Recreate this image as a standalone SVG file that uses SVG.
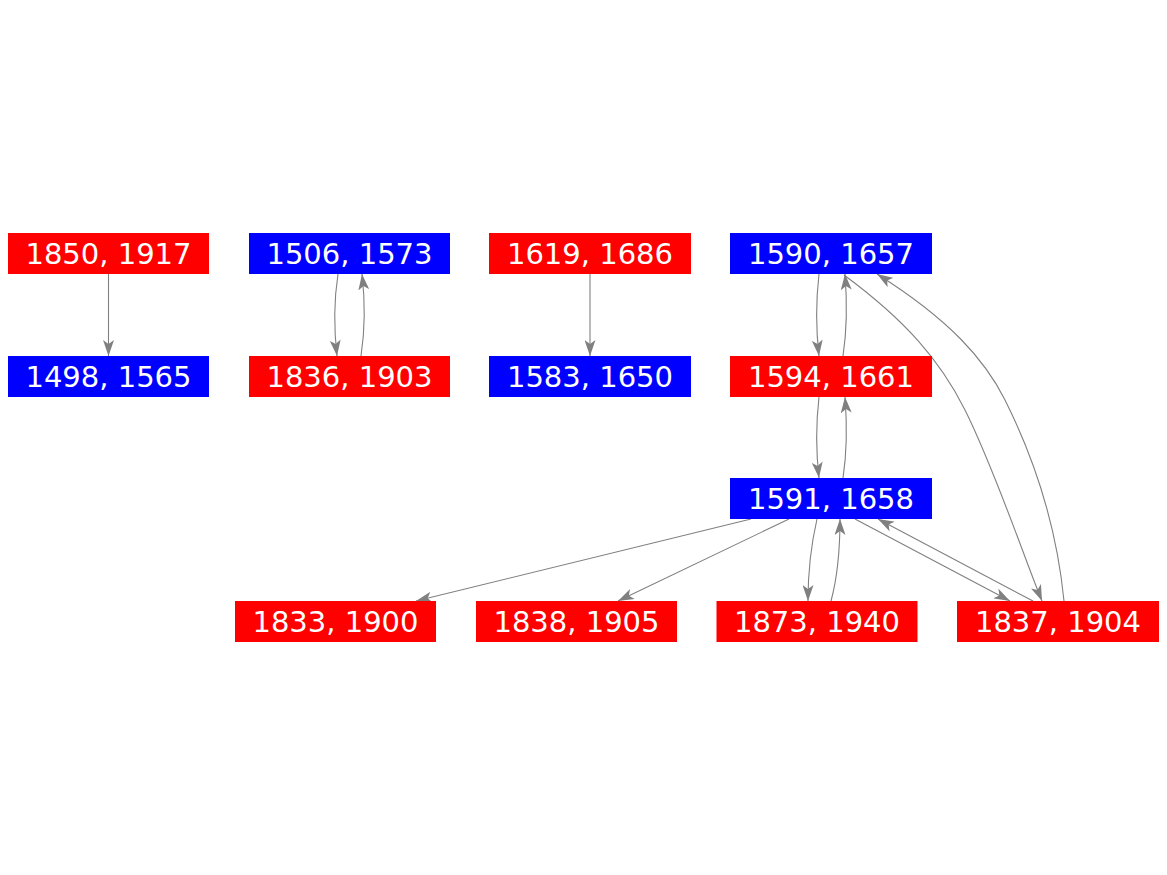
<svg xmlns="http://www.w3.org/2000/svg" width="1167" height="875" viewBox="0 0 1167 875">
<style>
.r{fill:#ff0000}
.b{fill:#0000ff}
text{fill:#ffffff;font-family:"DejaVu Sans",sans-serif;font-size:29px;text-anchor:middle}
.e{fill:none;stroke:#808080;stroke-width:1.1;marker-end:url(#ah)}
</style>
<defs>
<marker id="ah" markerUnits="userSpaceOnUse" viewBox="0 0 16 11" refX="16" refY="5.5" markerWidth="16" markerHeight="11" orient="auto">
<path d="M0,0 L16,5.5 L0,11 L4,5.5 Z" fill="#808080"/>
</marker>
</defs>
<rect width="1167" height="875" fill="#ffffff"/>
<g id="connectors">
<path class="e" d="M108.5,274 L108.5,356"/>
<path class="e" d="M338,274 C334,300 334,330 337,356"/>
<path class="e" d="M361,356 C365,330 365,300 362,274"/>
<path class="e" d="M590,274 L590,356"/>
<path class="e" d="M819,274 C816,300 816,330 819,356"/>
<path class="e" d="M843,356 C847,330 847,300 845,274"/>
<path class="e" d="M819,397 C816,423 816,452 819,478"/>
<path class="e" d="M843,478 C847,452 847,423 845,397"/>
<path class="e" d="M844,275 C905,320 940,360 965,410 C995,470 1025,560 1042,601"/>
<path class="e" d="M1064,601 C1058,540 1040,470 1005,400 C985,360 950,320 877,274"/>
<path class="e" d="M855,519 L1010,601"/>
<path class="e" d="M1033,601 L878,519"/>
<path class="e" d="M817,519 C811,545 808,570 808,601"/>
<path class="e" d="M831,601 C838,575 840,550 840,519"/>
<path class="e" d="M751,519 L416,601"/>
<path class="e" d="M789,519 L618,601"/>
</g>
<g id="n1850"><rect class="r" x="8" y="233" width="201" height="41"/><text x="108.5" y="263.7">1850, 1917</text></g>
<g id="n1498"><rect class="b" x="8" y="356" width="201" height="41"/><text x="108.5" y="386.7">1498, 1565</text></g>
<g id="n1506"><rect class="b" x="249" y="233" width="201" height="41"/><text x="349.5" y="263.7">1506, 1573</text></g>
<g id="n1836"><rect class="r" x="249" y="356" width="201" height="41"/><text x="349.5" y="386.7">1836, 1903</text></g>
<g id="n1619"><rect class="r" x="489" y="233" width="202" height="41"/><text x="590" y="263.7">1619, 1686</text></g>
<g id="n1583"><rect class="b" x="489" y="356" width="202" height="41"/><text x="590" y="386.7">1583, 1650</text></g>
<g id="n1590"><rect class="b" x="730" y="233" width="202" height="41"/><text x="831" y="263.7">1590, 1657</text></g>
<g id="n1594"><rect class="r" x="730" y="356" width="202" height="41"/><text x="831" y="386.7">1594, 1661</text></g>
<g id="n1591"><rect class="b" x="730" y="478" width="202" height="41"/><text x="831" y="508.7">1591, 1658</text></g>
<g id="n1833"><rect class="r" x="235" y="601" width="201" height="41"/><text x="335.5" y="631.7">1833, 1900</text></g>
<g id="n1838"><rect class="r" x="476" y="601" width="201" height="41"/><text x="576.5" y="631.7">1838, 1905</text></g>
<g id="n1873"><rect class="r" x="716.5" y="601" width="201" height="41"/><text x="817" y="631.7">1873, 1940</text></g>
<g id="n1837"><rect class="r" x="957" y="601" width="202" height="41"/><text x="1058" y="631.7">1837, 1904</text></g>
</svg>
